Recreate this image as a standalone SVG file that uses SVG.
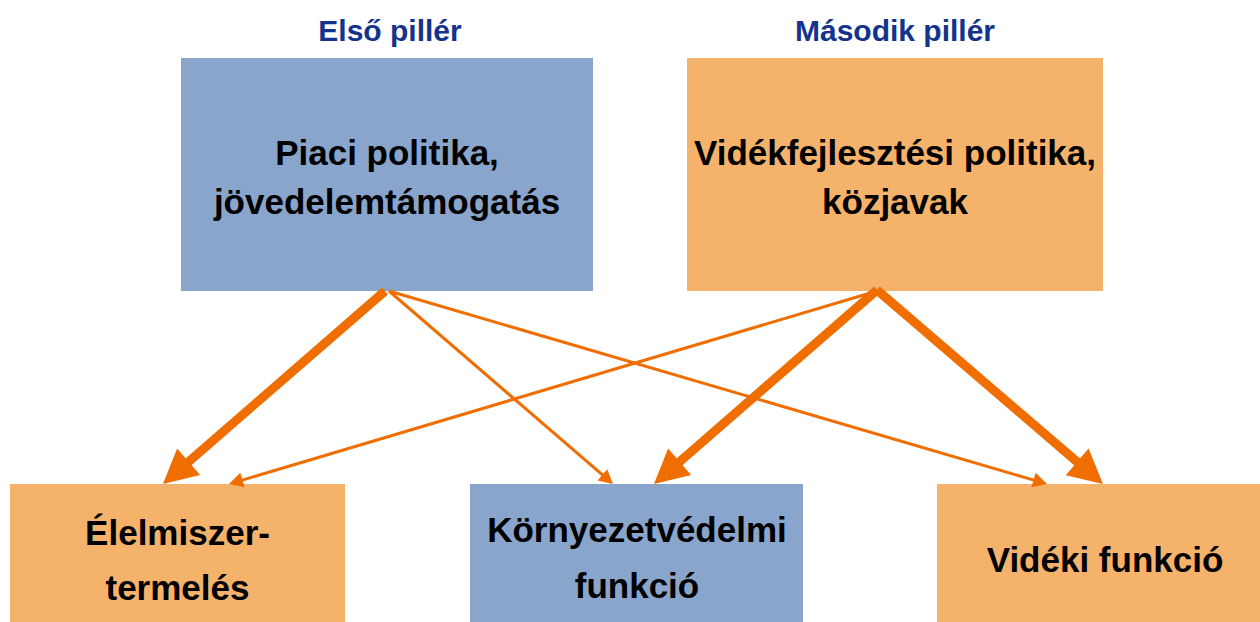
<svg xmlns="http://www.w3.org/2000/svg" width="1260" height="622" viewBox="0 0 1260 622">
  <style>
    .t { font-family: "Liberation Sans", Arial, sans-serif; font-weight: bold; text-anchor: middle; fill: #000; }
    .title { font-family: "Liberation Sans", Arial, sans-serif; font-weight: bold; text-anchor: middle; fill: #14338C; font-size: 30px; }
    .blue { fill: #89A5CC; }
    .orange { fill: #F5B26A; }
    .thick { stroke: #F06D00; stroke-width: 9; fill: none; marker-end: url(#headBig); }
    .thin { stroke: #F06D00; stroke-width: 3; fill: none; marker-end: url(#headSmall); }
  </style>
  <defs>
    <marker id="headBig" markerUnits="userSpaceOnUse" orient="auto" refX="0" refY="0" markerWidth="40" markerHeight="40" viewBox="-5 -20 40 40" overflow="visible">
      <path d="M-4,-17.5 L30,0 L-4,17.5 Z" fill="#F06D00"/>
    </marker>
    <marker id="headSmall" markerUnits="userSpaceOnUse" orient="auto" refX="0" refY="0" markerWidth="20" markerHeight="20" viewBox="-3 -10 20 20" overflow="visible">
      <path d="M-2,-7.5 L12,0 L-2,7.5 Z" fill="#F06D00"/>
    </marker>
  </defs>
  <rect width="1260" height="622" fill="#FFFFFF"/>

  <text class="title" x="390" y="41">Első pillér</text>
  <text class="title" x="895" y="41">Második pillér</text>

  <g id="node-piaci">
    <rect class="blue" x="181" y="58" width="412" height="233"/>
    <text class="t" font-size="35" x="387" y="165">Piaci politika,</text>
    <text class="t" font-size="35" x="387" y="214">jövedelemtámogatás</text>
  </g>
  <g id="node-videkfejlesztes">
    <rect class="orange" x="687" y="58" width="416" height="233"/>
    <text class="t" font-size="35" x="895" y="165">Vidékfejlesztési politika,</text>
    <text class="t" font-size="35" x="895" y="214">közjavak</text>
  </g>
  <g id="node-elelmiszer">
    <rect class="orange" x="10" y="484" width="335" height="138"/>
    <text class="t" font-size="35" x="177.5" y="545">Élelmiszer-</text>
    <text class="t" font-size="35" x="177.5" y="600">termelés</text>
  </g>
  <g id="node-kornyezet">
    <rect class="blue" x="470" y="484" width="333" height="138"/>
    <text class="t" font-size="35" x="637" y="542">Környezetvédelmi</text>
    <text class="t" font-size="35" x="637" y="598">funkció</text>
  </g>
  <g id="node-videki">
    <rect class="orange" x="937" y="484" width="323" height="138"/>
    <text class="t" font-size="35" x="1105" y="572">Vidéki funkció</text>
  </g>

  <g id="connectors">
    <line class="thick" x1="385" y1="291" x2="185.6" y2="464.3"/>
    <line class="thick" x1="877" y1="290" x2="676.6" y2="464.3"/>
    <line class="thick" x1="877" y1="290" x2="1080.2" y2="464.5"/>
    <line class="thin" x1="389" y1="291" x2="603.9" y2="476.2"/>
    <line class="thin" x1="389" y1="291" x2="1035.5" y2="480.6"/>
    <line class="thin" x1="877" y1="291" x2="240.5" y2="480.6"/>
  </g>
</svg>
